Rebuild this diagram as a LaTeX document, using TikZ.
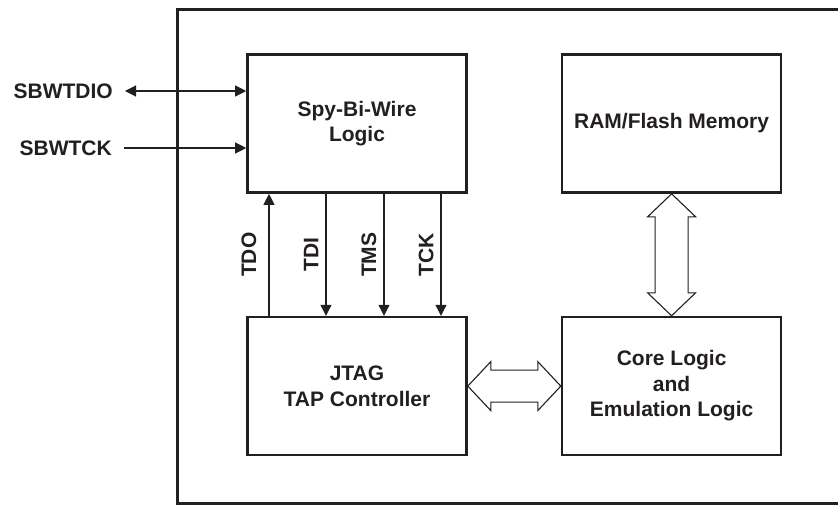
\documentclass[tikz,border=0pt]{standalone}
\usepackage{fontspec}
\setmainfont{Liberation Sans}
\usetikzlibrary{positioning,calc,arrows.meta}
\definecolor{ink}{RGB}{35,31,32}

\begin{document}
\begin{tikzpicture}[x=1pt, y=-1pt, node distance=122pt and 93pt,
    >={Triangle[length=11pt,width=11pt]},
    every node/.style={font=\fontsize{21}{25.5}\selectfont\bfseries, text=ink},
    block/.style={rectangle, draw=ink, line width=2.6pt, minimum width=219pt, minimum height=138pt, align=center},
    sig/.style={draw=ink, line width=1.1pt, ->},
    siglabel/.style={rotate=90, anchor=south, inner xsep=0pt, inner ysep=7pt},
    pinlabel/.style={anchor=east, inner xsep=12pt, inner ysep=0pt},
    bus/.style={draw=ink, line width=1.1pt, fill=white, line join=miter}]

    \useasboundingbox (0,0) rectangle (838,504);
    \draw[ink, line width=3pt] (177,9) rectangle (860,503);

    \node [block] (spy) at (357,123.5) {Spy-Bi-Wire\\Logic};
    \node [block, below=of spy] (jtag) {JTAG\\TAP Controller};
    \node [block, right=of jtag] (core) {Core Logic\\and\\Emulation Logic};
    \node [block, above=of core] (ram) {RAM/Flash Memory};

    \node [pinlabel] (sbwtdio) at (125,91) {SBWTDIO};
    \node [pinlabel] (sbwtck) at (124,148) {SBWTCK};

    \draw[sig, <->] (sbwtdio.east) -- (sbwtdio.east -| spy.west);
    \draw[sig] (sbwtck.east) -- (sbwtck.east -| spy.west);

    \draw[sig] ([xshift=-88pt]jtag.north) -- ([xshift=-88pt]spy.south) node[midway, siglabel, inner ysep=12pt] (TDO) {TDO};
    \foreach \name/\dx in {TDI/-31, TMS/27, TCK/84}
        \draw[sig] ([xshift=\dx pt]spy.south) -- ([xshift=\dx pt]jtag.north) node[midway, siglabel] (\name) {\name};

    \draw[bus] (jtag.east) -- ++(23,-24.5) -- ++(0,8.5) -- ($(core.west)+(-23,-16)$) -- ++(0,-8.5) -- (core.west)
        -- ++(-23,24.5) -- ++(0,-8.5) -- ($(jtag.east)+(23,16)$) -- ++(0,8.5) -- cycle;
    \draw[bus] (ram.south) -- ++(24,23) -- ++(-7.5,0) -- ($(core.north)+(16.5,-23)$) -- ++(7.5,0) -- (core.north)
        -- ++(-24,-23) -- ++(7.5,0) -- ($(ram.south)+(-16.5,23)$) -- ++(-7.5,0) -- cycle;
\end{tikzpicture}
\end{document}
